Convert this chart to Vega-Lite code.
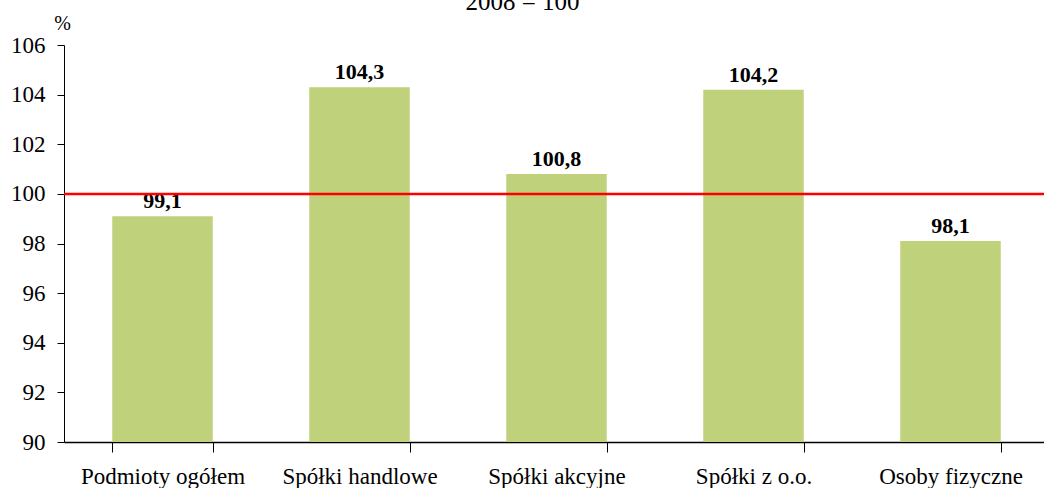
{
  "$schema": "https://vega.github.io/schema/vega-lite/v6.json",
  "autosize": "none",
  "padding": {"left": 64, "top": 45, "right": 0, "bottom": 46},
  "width": 985,
  "height": 397,
  "background": "white",
  "title": {
    "text": "2008 = 100",
    "anchor": "middle",
    "frame": "group",
    "dx": -34,
    "dy": 28,
    "offset": 1,
    "baseline": "bottom",
    "font": "Liberation Serif",
    "fontSize": 25,
    "fontWeight": "normal",
    "color": "black"
  },
  "config": {
    "view": {"stroke": null},
    "locale": {"number": {"decimal": ",", "thousands": " ", "grouping": [3], "currency": ["", ""]}}
  },
  "data": {
    "values": [
      {"kategoria": "Podmioty ogółem", "wartosc": 99.1},
      {"kategoria": "Spółki handlowe", "wartosc": 104.3},
      {"kategoria": "Spółki akcyjne", "wartosc": 100.8},
      {"kategoria": "Spółki z o.o.", "wartosc": 104.2},
      {"kategoria": "Osoby fizyczne", "wartosc": 98.1}
    ]
  },
  "layer": [
    {
      "mark": {"type": "bar", "color": "#C0D17B"},
      "encoding": {
        "x": {
          "field": "kategoria",
          "type": "nominal",
          "sort": null,
          "scale": {"paddingInner": 0.49, "paddingOuter": 0.245},
          "axis": {
            "title": null,
            "labelAngle": 0,
            "labelFont": "Liberation Serif",
            "labelFontSize": 23,
            "labelColor": "black",
            "labelPadding": 13,
            "tickBand": "extent",
            "tickSize": 10,
            "tickColor": "black",
            "domainColor": "black",
            "domainWidth": 1.5,
            "grid": false
          }
        },
        "y": {
          "field": "wartosc",
          "type": "quantitative",
          "scale": {"domain": [90, 106], "nice": false, "zero": false},
          "axis": {
            "values": [90, 92, 94, 96, 98, 100, 102, 104, 106],
            "title": "%",
            "titleAngle": 0,
            "titleX": -2,
            "titleY": -16,
            "titleAlign": "center",
            "titleBaseline": "alphabetic",
            "titleFont": "Liberation Serif",
            "titleFontSize": 20,
            "titleFontWeight": "normal",
            "titleColor": "black",
            "labelFont": "Liberation Serif",
            "labelFontSize": 23,
            "labelColor": "black",
            "labelPadding": 12,
            "tickSize": 7,
            "tickColor": "black",
            "domainColor": "black",
            "grid": false
          }
        },
        "y2": {"datum": 90}
      }
    },
    {
      "mark": {"type": "text", "baseline": "bottom", "dy": -3, "font": "Liberation Serif", "fontSize": 22, "fontWeight": "bold", "color": "black"},
      "encoding": {
        "x": {"field": "kategoria", "type": "nominal", "sort": null},
        "y": {"field": "wartosc", "type": "quantitative"},
        "text": {"field": "wartosc", "type": "quantitative", "format": ".1f"}
      }
    },
    {
      "data": {"values": [{"poziom": 100}]},
      "mark": {"type": "rule", "color": "#FF0000", "strokeWidth": 2.5},
      "encoding": {
        "y": {"field": "poziom", "type": "quantitative"}
      }
    }
  ]
}
